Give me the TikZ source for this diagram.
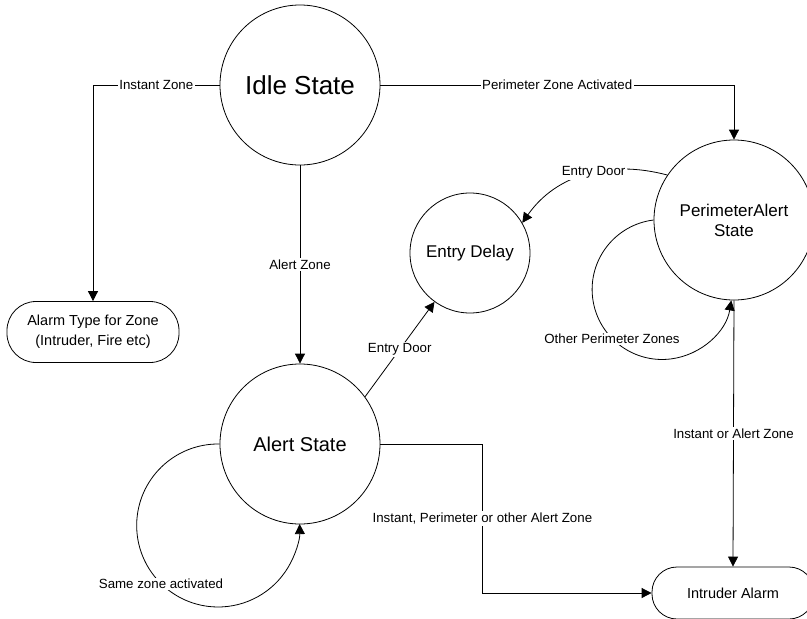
\documentclass[tikz,border=0pt]{standalone}
\usepackage{fontspec}
\setmainfont{Liberation Sans}
\usetikzlibrary{positioning,arrows.meta}

\begin{document}
\begin{tikzpicture}[x=1pt,y=1pt,line width=0.8pt,node distance=0pt,on grid,
  state/.style={draw,circle,inner sep=0pt,minimum size=160pt},
  term/.style={draw,rectangle,inner sep=0pt,align=center,font=\fontsize{14.5}{20}\selectfont},
  lbl/.style={fill=white,inner sep=1.5pt,font=\fontsize{13.3}{15}\selectfont},
  >={Triangle[length=10pt,width=10pt]}]
 \useasboundingbox (-300,85) rectangle (507,-534);
 \node [state, font=\fontsize{26}{30}\selectfont] (idle) {Idle State};
 \node [state, below=359pt of idle, font=\fontsize{20}{24}\selectfont] (alert) {Alert State};
 \node [state, below right=135pt and 434pt of idle, align=center, font=\fontsize{17}{20}\selectfont] (perim) {PerimeterAlert\\State};
 \node [state, minimum size=120pt, below right=168pt and 170pt of idle, font=\fontsize{17}{20}\selectfont] (delay) {Entry Delay};
 \node [term, minimum width=172pt, minimum height=61pt, rounded corners=29pt, below left=247pt and 207pt of idle] (zonetype) {Alarm Type for Zone\\(Intruder, Fire etc)};
 \node [term, minimum width=162pt, minimum height=52pt, rounded corners=25pt, below right=508pt and 433pt of idle] (intruder) {Intruder Alarm};

 \draw [->] (idle.west) -| node [lbl, pos=0.25] {Instant Zone} (zonetype.north);
 \draw [->] (idle.east) -| node [lbl, pos=0.25] {Perimeter Zone Activated} (perim.north);
 \draw [->] (idle.south) -- node [lbl] {Alert Zone} (alert.north);
 \draw [->] (alert.36) -- node [lbl] {Entry Door} (delay.234);
 \draw [->] (perim.146) to [out=165, in=55] node [lbl, pos=0.45] {Entry Door} (delay.30);
 \draw [->] (perim.south) -- node [lbl] {Instant or Alert Zone} (intruder.north);
 \draw [->] (alert.east) -- ++(102,0) |- node [lbl, pos=0.25] {Instant, Perimeter or other Alert Zone} (intruder.west);
 \draw [->] (perim.west) arc [start angle=97, end angle=351, radius=70];
 \node [lbl] at ([shift={(-122,-119)}]perim.center) {Other Perimeter Zones};
 \draw [->] (alert.west) arc [start angle=89, end angle=361, radius=81.5];
 \node [lbl] at ([shift={(-139,-140)}]alert.center) {Same zone activated};
\end{tikzpicture}
\end{document}
